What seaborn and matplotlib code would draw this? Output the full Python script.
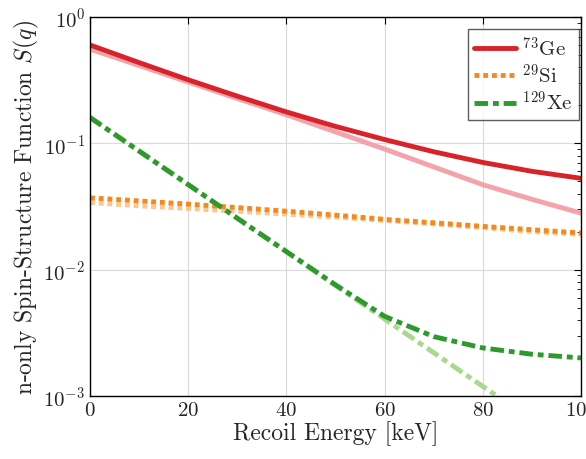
import numpy as np
import pandas as pd
import seaborn as sns
import matplotlib.pyplot as plt
from matplotlib.ticker import LogLocator, NullFormatter

sns.set_style("white")
plt.rcParams['font.family'] = ['cmr10', 'DejaVu Serif']
plt.rcParams['mathtext.fontset'] = 'cm'
plt.rcParams['axes.formatter.use_mathtext'] = True

# recoil energy grid [keV]
energy = [0, 10, 20, 30, 40, 50, 60, 70, 80, 90, 100]

# dark curves (legend entries)
ge = [0.60, 0.435, 0.318, 0.236, 0.177, 0.136, 0.107, 0.0857, 0.0705, 0.060, 0.0528]
si = [0.037, 0.035, 0.033, 0.031, 0.029, 0.027, 0.025, 0.0235, 0.022, 0.0207, 0.0195]
xe = [0.16, 0.0868, 0.0471, 0.0255, 0.0139, 0.00757, 0.00427, 0.00295, 0.0024, 0.00214, 0.002]

# light curves
ge_light = [0.556, 0.412, 0.305, 0.226, 0.168, 0.123, 0.090, 0.065, 0.047, 0.036, 0.028]
si_light = [0.034, 0.032, 0.0305, 0.029, 0.0275, 0.026, 0.0245, 0.023, 0.0215, 0.020, 0.019]
xe_light = [0.16, 0.0867, 0.0470, 0.0255, 0.0138, 0.00749, 0.00406, 0.0022, 0.00119, 0.000647, 0.00035]

labels = [r'$^{73}$Ge', r'$^{29}$Si', r'$^{129}$Xe']

fig = plt.figure(figsize=(5.86, 4.6), dpi=100)
ax = fig.add_axes([0.1536, 0.137, 0.838, 0.824])

lw = 3.5
dot = (0, (1, 0.8))
dashdot = (0, (2.8, 1, 1.2, 1))
# light ones underneath
sns.lineplot(x=energy, y=ge_light, ax=ax, color='#f4a3aa', lw=lw, legend=False)
sns.lineplot(x=energy, y=si_light, ax=ax, color='#fcc68c', lw=lw, legend=False, linestyle=dot)
sns.lineplot(x=energy, y=xe_light, ax=ax, color='#a8d98e', lw=lw, legend=False, linestyle=dashdot)

sns.lineplot(x=energy, y=ge, ax=ax, color='#d8232a', lw=lw, label=labels[0])
sns.lineplot(x=energy, y=si, ax=ax, color='#f5891f', lw=lw, label=labels[1], linestyle=dot)
sns.lineplot(x=energy, y=xe, ax=ax, color='#2e9a2e', lw=lw, label=labels[2], linestyle=dashdot)

ax.set_yscale('log')
ax.set_xlim(0, 100)
ax.set_ylim(1e-3, 1)
ax.set_xticks([0, 20, 40, 60, 80, 100])
ax.yaxis.set_major_locator(LogLocator(base=10))
ax.yaxis.set_minor_locator(LogLocator(base=10, subs=np.arange(2, 10)))
ax.yaxis.set_minor_formatter(NullFormatter())

ax.grid(True, which='major', color='#dadada', lw=0.8)
ax.tick_params(which='both', direction='in', top=True, right=True,
               labelsize=15, color='black')
ax.tick_params(which='major', length=5)
ax.tick_params(which='minor', length=3)
for s in ax.spines.values():
    s.set_color('black')
    s.set_linewidth(1.0)

ax.set_xlabel('Recoil Energy [keV]', fontsize=17, labelpad=1)
ax.set_ylabel(r'n-only Spin-Structure Function $S(q)$', fontsize=17, labelpad=2)

leg = ax.legend(loc='upper right', bbox_to_anchor=(0.996, 0.968), borderaxespad=0,
                fontsize=15, frameon=True, fancybox=False, edgecolor='#333333',
                handlelength=2.0, borderpad=0.3, labelspacing=0.15, handletextpad=0.3)
leg.get_frame().set_linewidth(1.0)

fig.savefig('out.png', dpi=100)
